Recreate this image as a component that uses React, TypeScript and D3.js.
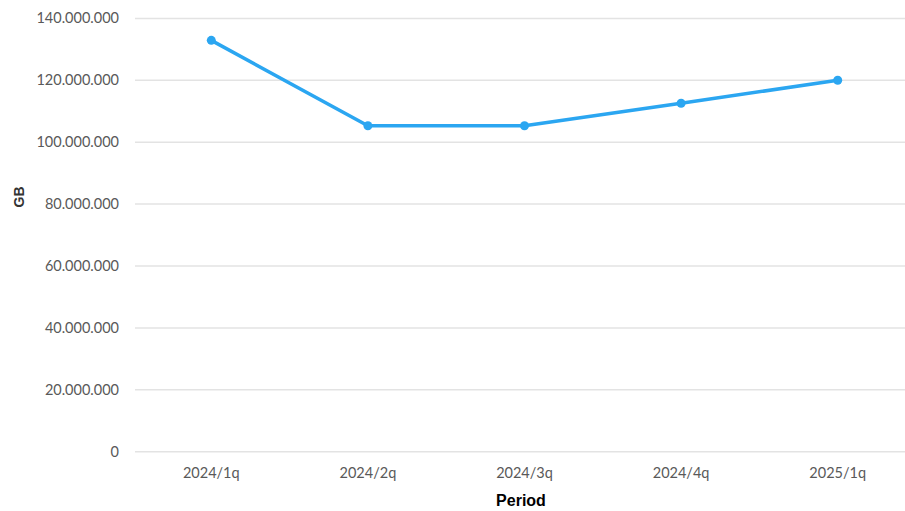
import { useEffect, useRef } from "react";
import * as d3 from "d3";

const periods = ["2024/1q", "2024/2q", "2024/3q", "2024/4q", "2025/1q"];
const values = [132900000, 105300000, 105300000, 112600000, 120000000];
const yTicks = [0, 20000000, 40000000, 60000000, 80000000, 100000000, 120000000, 140000000];

const W = 905;
const H = 511;

export default function App() {
  const svgRef = useRef<SVGSVGElement>(null);

  useEffect(() => {
    if (!svgRef.current) return;
    const svg = d3.select(svgRef.current);
    svg.selectAll("*").remove();

    const left = 133;
    const right = 916;
    const top = 18.4;
    const bottom = 451.7;

    const x = d3.scaleBand().domain(periods).range([left, right]);
    const y = d3.scaleLinear().domain([0, 140000000]).range([bottom, top]);
    const cx = (d: string) => (x(d) || 0) + x.bandwidth() / 2;

    const fmt = (v: number) => d3.format(",")(v).replace(/,/g, ".");

    // grid lines
    svg
      .append("g")
      .selectAll("line")
      .data(yTicks)
      .enter()
      .append("line")
      .attr("x1", left + 2)
      .attr("x2", right)
      .attr("y1", (d) => y(d))
      .attr("y2", (d) => y(d))
      .attr("stroke", "#e3e3e3")
      .attr("stroke-width", 1.5);

    // y labels
    svg
      .append("g")
      .selectAll("text")
      .data(yTicks)
      .enter()
      .append("text")
      .attr("x", 119)
      .attr("y", (d) => y(d))
      .attr("dy", "0.35em")
      .attr("text-anchor", "end")
      .attr("font-family", "Lato, 'Open Sans', sans-serif")
      .attr("font-size", 14.5)
      .attr("fill", "#595959")
      .text((d) => fmt(d));

    // x labels
    svg
      .append("g")
      .selectAll("text")
      .data(periods)
      .enter()
      .append("text")
      .attr("x", (d) => cx(d))
      .attr("y", 478)
      .attr("text-anchor", "middle")
      .attr("font-family", "Lato, 'Open Sans', sans-serif")
      .attr("font-size", 14.5)
      .attr("fill", "#595959")
      .text((d) => d);

    const pts = periods.map((p, i) => ({ p, v: values[i] }));

    const line = d3
      .line<{ p: string; v: number }>()
      .x((d) => cx(d.p))
      .y((d) => y(d.v));

    svg
      .append("path")
      .datum(pts)
      .attr("fill", "none")
      .attr("stroke", "#2ba6f1")
      .attr("stroke-width", 3.5)
      .attr("stroke-linejoin", "round")
      .attr("d", line);

    svg
      .append("g")
      .selectAll("circle")
      .data(pts)
      .enter()
      .append("circle")
      .attr("cx", (d) => cx(d.p))
      .attr("cy", (d) => y(d.v))
      .attr("r", 4.5)
      .attr("fill", "#2ba6f1");

    // axis titles
    svg
      .append("text")
      .attr("x", 521)
      .attr("y", 506)
      .attr("text-anchor", "middle")
      .attr("font-family", "'Liberation Sans', Arial, sans-serif")
      .attr("font-weight", "bold")
      .attr("font-size", 16)
      .attr("fill", "#000")
      .text("Period");

    svg
      .append("text")
      .attr("transform", "translate(24,197) rotate(-90)")
      .attr("text-anchor", "middle")
      .attr("font-family", "'Liberation Sans', Arial, sans-serif")
      .attr("font-weight", "bold")
      .attr("font-size", 14)
      .attr("fill", "#333")
      .text("GB");
  }, []);

  return (
    <svg
      ref={svgRef}
      width={W}
      height={H}
      style={{ position: "absolute", left: 0, top: 0, background: "#fff" }}
    ></svg>
  );
}
